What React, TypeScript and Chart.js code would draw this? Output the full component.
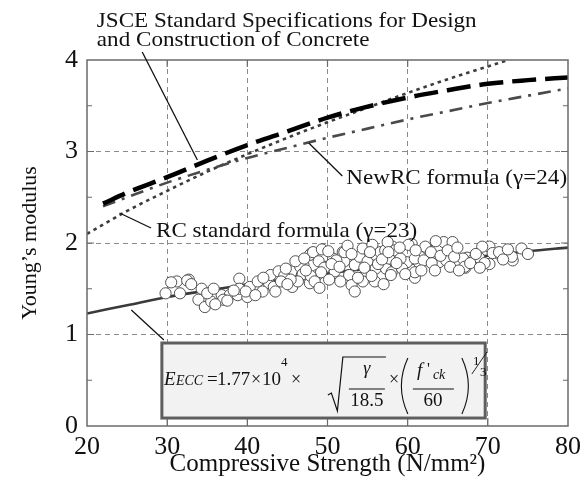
import React, { useEffect, useRef } from 'react';
import { Chart, registerables } from 'chart.js';

Chart.register(...registerables);

// ---------------- data ----------------
const X_TICKS = [20, 30, 40, 50, 60, 70, 80];
const Y_TICKS = [0, 1, 2, 3, 4];
const Y_TICK_MARKS = [0.5, 1, 1.5, 2, 2.5, 3, 3.5];

// JSCE Standard Specifications (thick long dash)
const JSCE_X = [22, 25, 30, 35, 40, 45, 50, 55, 60, 65, 70, 75, 80];
const JSCE_Y = [2.43, 2.55, 2.72, 2.9, 3.07, 3.22, 3.37, 3.49, 3.59, 3.67, 3.74, 3.78, 3.81];

// NewRC formula (gamma = 24) (dash-dot)
const NEWRC_X = [22, 25, 30, 35, 40, 45, 50, 55, 60, 65, 70, 75, 80];
const NEWRC_Y = [2.4, 2.5, 2.66, 2.8, 2.93, 3.04, 3.15, 3.25, 3.35, 3.44, 3.53, 3.61, 3.69];

// RC standard formula (gamma = 23) (dotted)
const RC_X = [20, 25, 30, 35, 40, 45, 50, 55, 60, 65, 70, 72.6];
const RC_Y = [2.1, 2.35, 2.57, 2.78, 2.97, 3.15, 3.32, 3.48, 3.64, 3.79, 3.93, 4.0];

// ECC formula (solid)
const ECC_X = [20, 25, 30, 35, 40, 45, 50, 55, 60, 65, 70, 75, 80];
const ECC_Y = [1.23, 1.32, 1.41, 1.48, 1.55, 1.61, 1.67, 1.72, 1.77, 1.82, 1.86, 1.91, 1.95];

// Test results (open circles)
const TEST_X = [
  29.8, 31.2, 32.7, 31.6, 32.5, 34.3, 33.9, 34.7, 35.5, 36.8, 37.8, 39.0, 38.8, 40.0, 40.3, 41.3,
  42.7, 42.9, 43.9, 45.4, 46.6, 48.0, 47.0, 47.8, 37.0, 41.9, 39.0, 43.3, 45.6, 45.6, 46.6, 46.8,
  47.8, 48.2, 48.7, 48.9, 49.9, 50.7, 50.9, 51.9, 52.1, 52.7, 53.0, 53.4, 54.0, 54.4, 54.8, 55.0,
  55.6, 56.0, 56.0, 56.6, 57.3, 57.7, 58.1, 49.6, 49.2, 46.9, 47.9, 46.3, 44.6, 45.4, 51.1, 52.1,
  53.4, 54.4, 55.9, 56.3, 57.2, 58.0, 58.4, 59.9, 60.5, 60.9, 61.4, 62.4, 62.6, 63.9, 64.5, 65.6,
  66.0, 67.2, 67.4, 68.1, 68.9, 70.2, 70.2, 71.4, 73.1, 74.2, 75.0, 60.1, 62.2, 59.1, 60.9, 62.0,
  63.0, 64.8, 66.9, 67.1, 69.3, 69.6, 70.6, 71.4, 73.0, 59.3, 57.9, 60.9, 65.3, 57.5,
  30.5, 33.0, 35.0, 36.0, 37.5, 38.3, 39.8, 41.0, 42.0, 43.5, 44.2, 35.8,
  44.8, 46.0, 47.3, 48.4, 49.3, 50.2, 50.5, 51.5, 51.6, 52.5, 53.0, 53.8, 54.6, 55.3, 55.5, 56.8,
  57.0, 57.6, 58.6, 49.0, 50.1, 47.1, 45.0,
  59.0, 59.7, 61.0, 61.7, 62.9, 63.4, 64.1, 65.0, 65.8, 66.4, 67.8, 68.5, 69.0, 71.9, 72.5, 63.5, 66.2,
];
const TEST_Y = [
  1.45, 1.58, 1.6, 1.45, 1.59, 1.5, 1.38, 1.3, 1.36, 1.43, 1.43, 1.61, 1.43, 1.41, 1.52, 1.58,
  1.56, 1.65, 1.69, 1.63, 1.67, 1.89, 1.76, 1.56, 1.38, 1.47, 1.5, 1.52, 1.52, 1.69, 1.74, 1.65,
  1.87, 1.9, 1.65, 1.8, 1.74, 1.83, 1.69, 1.9, 1.8, 1.65, 1.54, 1.76, 1.85, 1.94, 1.67, 1.8,
  1.98, 1.87, 1.72, 1.9, 1.72, 1.83, 1.96, 1.73, 1.68, 1.66, 1.64, 1.58, 1.64, 1.6, 1.81, 1.9,
  1.47, 1.58, 1.58, 1.77, 1.92, 1.68, 1.92, 1.79, 1.99, 1.62, 1.79, 1.94, 1.81, 1.79, 2.01, 2.01,
  1.79, 1.73, 1.84, 1.81, 1.84, 1.96, 1.77, 1.88, 1.81, 1.94, 1.88, 1.98, 1.96, 1.83, 1.83, 1.81,
  1.78, 1.81, 1.83, 1.74, 1.96, 1.78, 1.89, 1.9, 1.85, 1.72, 1.65, 1.68, 1.74, 2.01,
  1.57, 1.55, 1.45, 1.33, 1.37, 1.48, 1.47, 1.43, 1.62, 1.47, 1.58, 1.5,
  1.72, 1.8, 1.7, 1.58, 1.93, 1.6, 1.77, 1.74, 1.58, 1.97, 1.88, 1.62, 1.73, 1.9, 1.64, 1.82,
  1.55, 1.9, 1.78, 1.51, 1.91, 1.83, 1.55,
  1.95, 1.66, 1.92, 1.7, 1.9, 1.7, 1.86, 1.92, 1.85, 1.7, 1.78, 1.88, 1.73, 1.82, 1.93, 2.02, 1.95,
];

// ---------------- text ----------------
const X_TITLE = 'Compressive Strength (N/mm²)';
const Y_TITLE = 'Young’s modulus';
const JSCE_LABEL = ['JSCE Standard Specifications for Design', 'and Construction of Concrete'];
const NEWRC_LABEL = 'NewRC formula (γ=24)';
const RC_LABEL = 'RC standard formula (γ=23)';

const SERIF = '"Liberation Serif", "Times New Roman", serif';

const zip = (xs: number[], ys: number[]) => xs.map((x, i) => ({ x, y: ys[i] }));

function stretchText(ctx: CanvasRenderingContext2D, text: string, x: number, y: number, font: string, sx = 1, align: CanvasTextAlign = 'left') {
  ctx.save();
  ctx.font = font;
  ctx.textAlign = align;
  ctx.textBaseline = 'alphabetic';
  ctx.translate(x, y);
  ctx.scale(sx, 1);
  ctx.fillText(text, 0, 0);
  ctx.restore();
}

function drawFormula(ctx: CanvasRenderingContext2D, bx: number, by: number) {
  ctx.save();
  ctx.fillStyle = '#111';
  ctx.strokeStyle = '#111';
  const it = (s: number) => `italic ${s}px ${SERIF}`;
  const rm = (s: number) => `${s}px ${SERIF}`;
  const base = by + 42;
  stretchText(ctx, 'E', bx + 2, base, it(19));
  stretchText(ctx, 'ECC', bx + 14, base, it(14));
  stretchText(ctx, '=', bx + 45, base, rm(19));
  stretchText(ctx, '1.77', bx + 55, base, rm(19));
  stretchText(ctx, '×', bx + 89, base, rm(18));
  stretchText(ctx, '10', bx + 100, base, rm(19));
  stretchText(ctx, '4', bx + 119, by + 23, rm(13));
  stretchText(ctx, '×', bx + 129, base, rm(18));
  // radical
  ctx.lineWidth = 1.2;
  ctx.beginPath();
  ctx.moveTo(bx + 166, by + 52);
  ctx.lineTo(bx + 169.5, by + 50);
  ctx.lineTo(bx + 175.5, by + 68);
  ctx.lineTo(bx + 181, by + 14);
  ctx.lineTo(bx + 224, by + 14);
  ctx.stroke();
  stretchText(ctx, 'γ', bx + 205, by + 31, it(18), 1, 'center');
  ctx.beginPath();
  ctx.moveTo(bx + 187, by + 46);
  ctx.lineTo(bx + 223, by + 46);
  ctx.stroke();
  stretchText(ctx, '18.5', bx + 205, by + 63, rm(19), 1, 'center');
  stretchText(ctx, '×', bx + 227, base, rm(18));
  // parentheses
  ctx.lineWidth = 1.1;
  ctx.beginPath();
  ctx.moveTo(bx + 246, by + 15);
  ctx.quadraticCurveTo(bx + 233, by + 43, bx + 246, by + 71);
  ctx.stroke();
  ctx.beginPath();
  ctx.moveTo(bx + 300, by + 15);
  ctx.quadraticCurveTo(bx + 313, by + 43, bx + 300, by + 71);
  ctx.stroke();
  stretchText(ctx, 'f', bx + 255, by + 33, it(19));
  stretchText(ctx, "'", bx + 265, by + 31, rm(16));
  stretchText(ctx, 'ck', bx + 271, by + 36, it(14));
  ctx.lineWidth = 1.2;
  ctx.beginPath();
  ctx.moveTo(bx + 251, by + 46);
  ctx.lineTo(bx + 292, by + 46);
  ctx.stroke();
  stretchText(ctx, '60', bx + 271, by + 63, rm(19), 1, 'center');
  // exponent 1/3
  stretchText(ctx, '1', bx + 311, by + 22, rm(13));
  stretchText(ctx, '3', bx + 318, by + 33, rm(13));
  ctx.lineWidth = 0.9;
  ctx.beginPath();
  ctx.moveTo(bx + 310, by + 31);
  ctx.lineTo(bx + 325, by + 9);
  ctx.stroke();
  ctx.restore();
}

const decorPlugin = {
  id: 'decor',
  afterDatasetsDraw(chart: any) {
    const { ctx, chartArea: a, scales } = chart;
    const xs = scales.x;
    const ys = scales.y;
    const px = (v: number) => xs.getPixelForValue(v);
    const py = (v: number) => ys.getPixelForValue(v);
    ctx.save();
    ctx.setLineDash([]);
    // frame
    ctx.strokeStyle = '#6a6a6a';
    ctx.lineWidth = 1.5;
    ctx.strokeRect(a.left, a.top, a.right - a.left, a.bottom - a.top);
    // inside tick marks
    ctx.lineWidth = 1.2;
    ctx.beginPath();
    for (const v of Y_TICK_MARKS) {
      const len = Number.isInteger(v) ? 7 : 5;
      ctx.moveTo(a.left, py(v));
      ctx.lineTo(a.left + len, py(v));
      ctx.moveTo(a.right, py(v));
      ctx.lineTo(a.right - len, py(v));
    }
    for (const v of X_TICKS.slice(1, -1)) {
      ctx.moveTo(px(v), a.bottom);
      ctx.lineTo(px(v), a.bottom - 8);
      ctx.moveTo(px(v), a.top);
      ctx.lineTo(px(v), a.top + 7);
    }
    ctx.stroke();

    // formula box
    const bx = px(29.34);
    const by = py(0.907);
    const bw = px(69.67) - bx;
    const bh = py(0.087) - by;
    ctx.fillStyle = '#f2f2f2';
    ctx.fillRect(bx, by, bw, bh);
    ctx.strokeStyle = '#5e5e5e';
    ctx.lineWidth = 3;
    ctx.strokeRect(bx, by, bw, bh);
    drawFormula(ctx, bx, by);
    ctx.restore();
  },
  afterDraw(chart: any) {
    const { ctx, scales } = chart;
    const xs = scales.x;
    const ys = scales.y;
    const px = (v: number) => xs.getPixelForValue(v);
    const py = (v: number) => ys.getPixelForValue(v);
    ctx.save();
    ctx.setLineDash([]);
    ctx.strokeStyle = '#111';
    ctx.lineWidth = 1.3;
    const leader = (x1: number, y1: number, x2: number, y2: number) => {
      ctx.beginPath();
      ctx.moveTo(px(x1), py(y1));
      ctx.lineTo(px(x2), py(y2));
      ctx.stroke();
    };
    leader(26.89, 4.087, 33.77, 2.907);
    leader(47.66, 3.093, 51.85, 2.732);
    leader(24.06, 2.328, 27.99, 2.164);
    leader(25.53, 1.268, 29.59, 0.94);

    ctx.fillStyle = '#111';
    const f = `21px ${SERIF}`;
    const sx = 1.1;
    stretchText(ctx, JSCE_LABEL[0], px(21.23), py(4.361), f, sx);
    stretchText(ctx, JSCE_LABEL[1], px(21.23), py(4.153), f, sx);
    stretchText(ctx, NEWRC_LABEL, px(52.34), py(2.645), f, sx);
    stretchText(ctx, RC_LABEL, px(28.61), py(2.066), f, sx);
    ctx.restore();
  },
};

export default function App() {
  const ref = useRef<HTMLCanvasElement | null>(null);

  useEffect(() => {
    document.body.style.margin = '0';
    const canvas = ref.current;
    if (!canvas) return;

    const chart = new Chart(canvas, {
      type: 'scatter',
      data: {
        datasets: [
          {
            label: 'Test results',
            data: zip(TEST_X, TEST_Y),
            pointRadius: 5.6,
            pointBackgroundColor: '#ffffff',
            pointBorderColor: '#505050',
            pointBorderWidth: 1,
            showLine: false,
            order: 0,
          },
          {
            label: 'JSCE Standard Specifications',
            data: zip(JSCE_X, JSCE_Y),
            showLine: true,
            pointRadius: 0,
            borderColor: '#000000',
            borderWidth: 4.5,
            borderDash: [24, 9],
            cubicInterpolationMode: 'monotone',
            order: 1,
          },
          {
            label: 'NewRC formula',
            data: zip(NEWRC_X, NEWRC_Y),
            showLine: true,
            pointRadius: 0,
            borderColor: '#4a4a4a',
            borderWidth: 2.6,
            borderDash: [13, 7, 3, 7],
            cubicInterpolationMode: 'monotone',
            order: 2,
          },
          {
            label: 'RC standard formula',
            data: zip(RC_X, RC_Y),
            showLine: true,
            pointRadius: 0,
            borderColor: '#3c3c3c',
            borderWidth: 2.6,
            borderDash: [3.5, 4],
            cubicInterpolationMode: 'monotone',
            order: 3,
          },
          {
            label: 'ECC formula',
            data: zip(ECC_X, ECC_Y),
            showLine: true,
            pointRadius: 0,
            borderColor: '#3a3a3a',
            borderWidth: 2.6,
            cubicInterpolationMode: 'monotone',
            order: 4,
          },
        ],
      },
      options: {
        responsive: false,
        animation: false,
        devicePixelRatio: 1,
        layout: { padding: { left: 0, top: 60, right: 12, bottom: 0 } },
        plugins: { legend: { display: false }, tooltip: { enabled: false } },
        scales: {
          x: {
            type: 'linear',
            min: 20,
            max: 80,
            afterBuildTicks: (s: any) => {
              s.ticks = X_TICKS.map((v) => ({ value: v }));
            },
            afterFit: (s: any) => {
              s.height = 59;
            },
            ticks: {
              color: '#111',
              font: { family: SERIF, size: 26 },
              padding: 6,
              maxRotation: 0,
              autoSkip: false,
              callback: (v: any) => String(v),
            },
            grid: {
              drawTicks: false,
              color: (c: any) => (c.tick && c.tick.value > 20 && c.tick.value < 80 ? '#8a8a8a' : 'rgba(0,0,0,0)'),
              lineWidth: 1,
            },
            border: { display: false, dash: [5, 4] },
            title: {
              display: true,
              text: X_TITLE,
              color: '#111',
              font: { family: SERIF, size: 25 },
              padding: { top: 0, bottom: 6 },
            },
          },
          y: {
            type: 'linear',
            min: 0,
            max: 4,
            afterBuildTicks: (s: any) => {
              s.ticks = Y_TICKS.map((v) => ({ value: v }));
            },
            afterFit: (s: any) => {
              s.width = 87;
            },
            ticks: {
              color: '#111',
              font: { family: SERIF, size: 26 },
              padding: 9,
              autoSkip: false,
              callback: (v: any) => String(v),
            },
            grid: {
              drawTicks: false,
              color: (c: any) => (c.tick && c.tick.value > 0 && c.tick.value < 4 ? '#8a8a8a' : 'rgba(0,0,0,0)'),
              lineWidth: 1,
            },
            border: { display: false, dash: [5, 4] },
            title: {
              display: true,
              text: Y_TITLE,
              color: '#111',
              font: { family: SERIF, size: 22 },
              padding: { top: 17, bottom: 0 },
            },
          },
        },
      },
      plugins: [decorPlugin],
    } as any);

    return () => chart.destroy();
  }, []);

  return (
    <div style={{ position: 'absolute', left: 0, top: 0, width: 587, height: 485, background: '#fff' }}>
      <canvas ref={ref} width={587} height={485} />
    </div>
  );
}
